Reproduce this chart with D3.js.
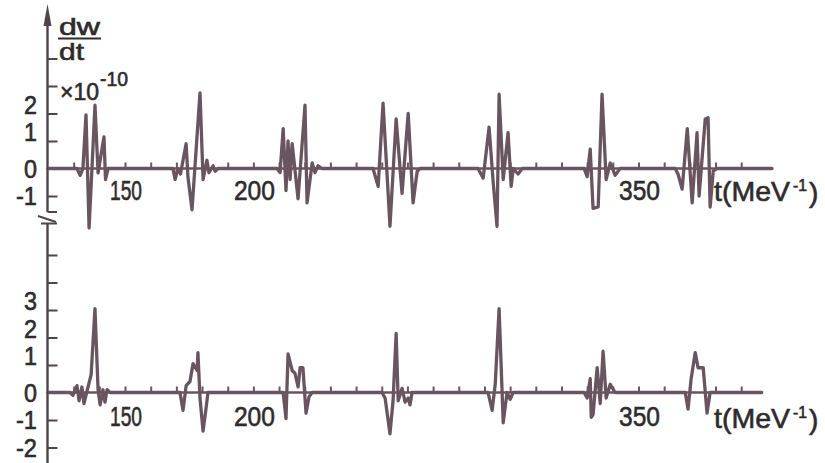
<!DOCTYPE html>
<html><head><meta charset="utf-8">
<script src="https://cdn.jsdelivr.net/npm/d3@7"></script>
<style>html,body{margin:0;padding:0;background:#fff;} svg{display:block;}</style>
</head><body><svg id="c" width="825" height="463"></svg>
<script>
// ---- data ----
const topT = [120,
  129.7,131.3,132.5,133.6,134.8,136.0,138.3,139.5,141.8,142.4,143.4,
  168.7,169.5,170.6,171.6,173.8,174.5,176.1,179.2,180.4,181.9,182.7,184.3,185.1,186.2,
  209.2,210.4,211.6,212.7,213.5,214.3,215.1,217.4,220.1,220.9,222.9,224.0,225.2,226.7,
  246.6,248.6,250.5,253.2,255.6,257.9,260.3,262.2,263.8,264.9,
  287.5,289.5,291.8,293.4,294.9,295.7,297.3,299.2,300.4,301.2,303.1,304.7,
  328.8,330.0,331.2,332.3,334.3,335.8,337.4,339.0,340.9,342.8,
  364.3,365.4,367.0,369.0,370.9,372.8,373.6,376.0,377.1,377.9,379.1,380.6,
  402];
const topV = [0,
  0,0,-0.25,0,1.95,-2.16,2.3,-0.16,1.15,-0.4,0,
  0,-0.4,0,-0.2,0.9,-0.3,-1.5,2.75,-0.4,0.3,-0.15,0.1,-0.1,0,
  0,-0.15,1.45,-0.8,1.0,-0.4,0.9,-1.1,2.3,-1.25,0.2,-0.15,0.1,0,
  0,-0.65,2.38,-2.1,1.8,-0.9,2.0,-1.25,-0.1,0,
  0,-0.35,1.5,-0.5,-2.1,2.7,-0.4,1.3,-0.65,0,-0.2,0,
  0,-0.3,0.7,-1.45,-1.4,2.7,-0.4,0.2,-0.25,0,
  0,-0.2,-0.75,1.45,-1.25,1.3,-1.0,1.8,1.85,-1.4,-0.1,0,
  0];
const botT = [120,
  128.6,129.7,131.3,132.1,133.2,134.0,135.6,136.8,138.3,139.5,140.3,141.4,142.2,143.0,144.2,
  171.4,172.6,173.8,175.3,176.5,178.1,178.4,179.2,180.4,181.6,182.3,
  211.6,212.7,213.5,215.1,216.2,217.4,218.2,219.3,220.5,221.7,222.9,
  250.1,251.3,253.2,254.4,255.6,256.4,257.9,259.1,260.3,261.0,261.8,
  291.4,293.0,294.2,295.7,297.3,298.8,300.0,301.2,303.1,
  328.8,330.0,331.2,331.6,332.3,333.9,335.1,336.2,337.4,339.0,340.9,
  368.2,369.3,370.5,372.1,373.2,375.2,376.7,377.9,379.1,
  398];
const botV = [0,
  0,-0.1,0.25,-0.3,0.2,-0.4,0.2,0.65,3.05,0.1,-0.45,0.1,-0.35,0.1,0,
  0,-0.65,0.25,0.4,1.05,0.8,1.45,-0.2,-1.4,-0.55,0,
  0,-0.95,1.4,0.8,0.7,0.2,0.9,0.9,-0.75,-0.15,0,
  0,-0.2,-1.5,-0.3,2.15,-0.3,0.15,-0.35,-0.2,-0.45,0,
  0,-0.65,0.3,3.05,-1.1,0,-0.25,0,0,
  0,-0.2,0.5,-0.9,-0.8,0.9,-0.4,1.5,-0.2,0.3,0,
  0,-0.6,0.5,1.45,0.9,0.9,-0.75,0,0,
  0];
const xTickValues = [130,140,150,160,170,180,190,200,210,220,230,240,250,260,270,280,290,300,310,320,330,340,350,360,370,380,390];
const xLabelValues = [150,200,350];
const yTopTicks = [-1,0,1,2,3,4];
const yTopLabels = [2,1,0,-1];
const yBotTicks = [-2,-1,0,1,2,3,4,5];
const yBotLabels = [3,2,1,0,-1,-2];
const yTitleNum = "dw", yTitleDen = "dt", yFactor = "×10", yFactorExp = "-10";
const xTitle = "t(MeV", xTitleExp = "-1", xTitleEnd = ")";

// ---- drawing ----
const svg = d3.select("#c");
const traceColor = "#69555f", axisColor = "#4f454a", textColor = "#2e2b2d";
const font = "'Liberation Sans', 'DejaVu Sans', Arial, sans-serif";
const x = d3.scaleLinear().domain([120, 402]).range([48, 772]);
const yTop = d3.scaleLinear().domain([0, 2]).range([168.5, 113.5]);
const yBot = d3.scaleLinear().domain([0, 3]).range([392.5, 310]);
const axisX = 47.5;

function txt(sel) {
  return sel.attr("font-family", font).attr("fill", textColor)
    .attr("stroke", textColor).attr("stroke-width", 0.6)
    .attr("lengthAdjust", "spacingAndGlyphs");
}

function panel(T, V, y, yTicks, yLabels, xEnd, tickLabelBase, titleBase) {
  svg.append("line").attr("x1", axisX).attr("x2", x(xEnd))
    .attr("y1", y(0)).attr("y2", y(0))
    .attr("stroke", traceColor).attr("stroke-width", 2.4);
  const gx = svg.append("g").attr("transform", `translate(0,${y(0)})`)
    .call(d3.axisTop(x).tickValues(xTickValues).tickSize(6).tickSizeOuter(0).tickFormat(""));
  gx.select(".domain").remove();
  gx.selectAll(".tick line").attr("stroke", traceColor).attr("stroke-width", 2);
  const gy = svg.append("g").attr("transform", `translate(${axisX},0)`)
    .call(d3.axisRight(y).tickValues(yTicks).tickSize(10).tickSizeOuter(0).tickFormat(""));
  gy.select(".domain").remove();
  gy.selectAll(".tick line").attr("stroke", axisColor).attr("stroke-width", 2);
  svg.selectAll(null).data(yLabels).enter().append("text")
    .attr("x", 37).attr("y", d => y(d) + (d > 0 ? -9 : 0))
    .attr("text-anchor", "end").attr("dominant-baseline", "central")
    .attr("font-size", 26)
    .attr("textLength", d => d < 0 ? 21 : 13)
    .call(txt)
    .text(d => String(d));
  const pts = T.map((t, i) => [t, V[i]]);
  svg.append("path").datum(pts)
    .attr("d", d3.line().x(d => x(d[0])).y(d => y(d[1])))
    .attr("fill", "none").attr("stroke", traceColor).attr("stroke-width", 3.3)
    .attr("stroke-linejoin", "round").attr("stroke-linecap", "round");
  svg.selectAll(null).data(xLabelValues).enter().append("text")
    .attr("x", d => x(d) + 1).attr("y", tickLabelBase)
    .attr("text-anchor", "middle").attr("font-size", 28)
    .attr("textLength", d => d === 150 ? 32 : 41)
    .call(txt)
    .text(d => d);
  svg.append("text").attr("x", 714).attr("y", titleBase)
    .attr("font-size", 28).attr("textLength", 76).call(txt).text(xTitle);
  svg.append("text").attr("x", 793).attr("y", titleBase - 10)
    .attr("font-size", 17).attr("textLength", 14).call(txt).text(xTitleExp);
  svg.append("text").attr("x", 809).attr("y", titleBase + 1)
    .attr("font-size", 28).call(txt).text(xTitleEnd);
}

panel(topT, topV, yTop, yTopTicks, yTopLabels, 402, 200, 201);
panel(botT, botV, yBot, yBotTicks, yBotLabels, 398, 426, 428);

// y axis with break and arrow
svg.append("line").attr("x1", axisX).attr("x2", axisX).attr("y1", 24).attr("y2", 212)
  .attr("stroke", axisColor).attr("stroke-width", 2.4);
svg.append("line").attr("x1", axisX).attr("x2", 57).attr("y1", 212).attr("y2", 212)
  .attr("stroke", axisColor).attr("stroke-width", 2);
svg.append("line").attr("x1", 38).attr("x2", 56).attr("y1", 216).attr("y2", 222)
  .attr("stroke", axisColor).attr("stroke-width", 2);
svg.append("line").attr("x1", axisX).attr("x2", axisX).attr("y1", 223).attr("y2", 463)
  .attr("stroke", axisColor).attr("stroke-width", 2.4);
svg.append("line").attr("x1", 41).attr("x2", 57).attr("y1", 223.5).attr("y2", 223.5)
  .attr("stroke", axisColor).attr("stroke-width", 2);
svg.append("path").attr("d", `M${axisX},4 L${axisX - 4},26 L${axisX + 4},26 Z`)
  .attr("fill", axisColor);

// y title: dw/dt  x10^-10
svg.append("text").attr("x", 59).attr("y", 35).attr("font-size", 24)
  .attr("textLength", 41).call(txt).text(yTitleNum);
svg.append("line").attr("x1", 58).attr("x2", 101).attr("y1", 38.5).attr("y2", 38.5)
  .attr("stroke", textColor).attr("stroke-width", 2);
svg.append("text").attr("x", 59).attr("y", 60).attr("font-size", 24)
  .attr("textLength", 25).call(txt).text(yTitleDen);
svg.append("text").attr("x", 60).attr("y", 100).attr("font-size", 23)
  .attr("textLength", 39).call(txt).text(yFactor);
svg.append("text").attr("x", 100).attr("y", 86).attr("font-size", 20)
  .attr("textLength", 28).call(txt).text(yFactorExp);
</script>
</body></html>
